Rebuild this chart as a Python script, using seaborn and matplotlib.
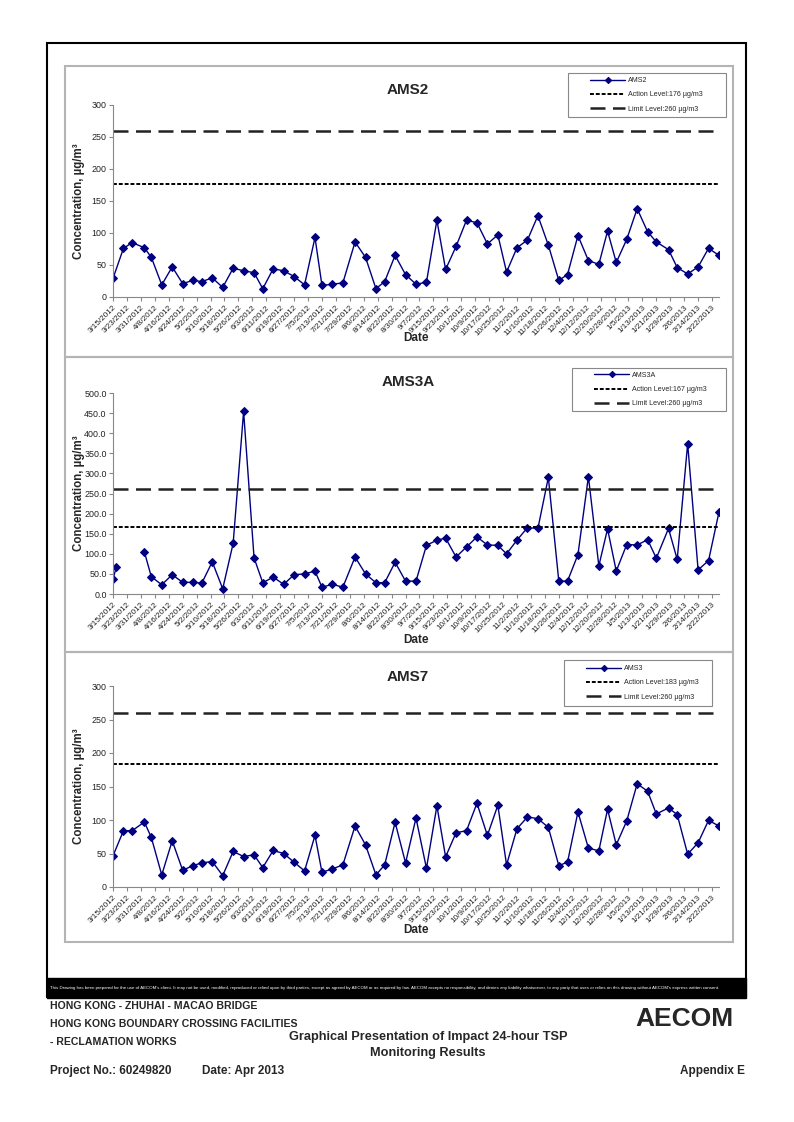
import numpy as np
import pandas as pd
import matplotlib
matplotlib.use('Agg')
import matplotlib.pyplot as plt
from matplotlib.patches import Rectangle
import seaborn as sns

sns.set_style('white')
plt.rcParams['font.family'] = ['Liberation Sans', 'DejaVu Sans']

# sampling dates (roughly every 6 days)
dates = ['2012-03-15', '2012-03-21', '2012-03-26', '2012-04-02', '2012-04-06', '2012-04-12',
         '2012-04-18', '2012-04-24', '2012-04-30', '2012-05-05', '2012-05-11', '2012-05-17',
         '2012-05-23', '2012-05-29', '2012-06-04', '2012-06-09', '2012-06-15', '2012-06-21',
         '2012-06-27', '2012-07-03', '2012-07-09', '2012-07-13', '2012-07-19', '2012-07-25',
         '2012-08-01', '2012-08-07', '2012-08-13', '2012-08-18', '2012-08-24', '2012-08-30',
         '2012-09-05', '2012-09-11', '2012-09-17', '2012-09-22', '2012-09-28', '2012-10-04',
         '2012-10-10', '2012-10-16', '2012-10-22', '2012-10-27', '2012-11-02', '2012-11-08',
         '2012-11-14', '2012-11-20', '2012-11-26', '2012-12-01', '2012-12-07', '2012-12-13',
         '2012-12-19', '2012-12-24', '2012-12-29', '2013-01-04', '2013-01-10', '2013-01-16',
         '2013-01-21', '2013-01-28', '2013-02-02', '2013-02-08', '2013-02-14', '2013-02-20',
         '2013-02-26']

ams2 = [29, 76, 85, 77, 62, 19, 47, 21, 26, 24,
        30, 15, 45, 41, 38, 13, 44, 41, 32, 19,
        93, 18, 20, 22, 86, 62, 13, 24, 65, 35,
        20, 23, 120, 43, 79, 120, 116, 83, 97, 39,
        77, 89, 127, 81, 26, 35, 96, 57, 51, 103,
        54, 90, 138, 102, 86, 74, 46, 36, 47, 76, 65]

# AMS3A has an extra sample on 3/17 and no data on 3/21, 3/26
ams3a_dates = ['2012-03-15', '2012-03-17'] + dates[1:]
ams3a = [37.5, 68, np.nan, np.nan,
         105, 43, 23, 48, 29, 29, 27, 80, 13, 126,
         454, 90, 28, 42, 24, 48, 50, 57, 17, 24,
         17, 92, 50, 28, 28, 79, 32, 32, 121, 134,
         139, 92, 117, 142, 122, 121, 100, 134, 165, 163,
         290, 32, 32, 98, 292, 70, 162, 57, 123, 122,
         135, 89, 163, 86, 374, 60, 83, 204]

ams7 = [46.5, 84, 84, 97, 74, 18, 69, 25, 32, 36,
        38, 17, 53, 45.5, 48, 29, 54.5, 50, 37, 24,
        77, 22, 27, 33, 91, 63, 18, 33, 96.5, 36,
        103, 28, 121, 45, 81, 84, 125, 77, 122, 33,
        87, 104.5, 102, 89, 32, 37, 112, 58, 54, 116,
        63, 98.5, 154, 143, 109, 118, 108, 49, 66, 99.5, 91]

titles = ['AMS2', 'AMS3A', 'AMS7']
legend_names = ['AMS2', 'AMS3A', 'AMS3']
action_levels = [176, 167, 183]
limit_level = 260
y_max = [300, 500, 300]

W, H = 794, 1122
fig = plt.figure(figsize=(W / 100, H / 100), dpi=100)


def fx(x):
    return x / W


def fy(y):
    return 1 - y / H


def box(x0, y0, x1, y1, **kw):
    fig.add_artist(Rectangle((fx(x0), fy(y1)), fx(x1) - fx(x0), fy(y0) - fy(y1),
                             transform=fig.transFigure, **kw))


# page frame, chart panels, disclaimer strip
box(47, 43, 746, 997, fill=False, lw=1.5, ec='black')
for top, bot in [(66, 357), (357, 652), (652, 942)]:
    box(65, top, 733, bot, fill=False, lw=1.5, ec='#b4b4b4')
box(47, 978, 746, 998, fc='black', ec='black')
fig.text(fx(50), fy(988), "This Drawing has been prepared for the use of AECOM's client. It may not be used, "
         "modified, reproduced or relied upon by third parties, except as agreed by AECOM or as required by law. "
         "AECOM accepts no responsibility, and denies any liability whatsoever, to any party that uses or relies "
         "on this drawing without AECOM's express written consent.",
         color='white', fontsize=3.2, va='center')

# axes positions in pixels: (left, top, right, bottom)
boxes = [(113, 105, 719, 297), (113, 393, 719, 594), (113, 686, 719, 887)]
legend_boxes = [(568, 73, 726, 117), (572, 368, 726, 411), (564, 660, 712, 706)]
title_pad = [8, 5, 3.5]
date_y = [338, 640, 930]

series = [(dates, ams2), (ams3a_dates, ams3a), (dates, ams7)]
ticks = pd.date_range('2012-03-15', '2013-02-22', freq='8D')
tick_labels = [f'{d.month}/{d.day}/{d.year}' for d in ticks]

for i, (d, v) in enumerate(series):
    l, t, r, b = boxes[i]
    ax = fig.add_axes([fx(l), fy(b), fx(r) - fx(l), fy(t) - fy(b)])
    df = pd.DataFrame({'Date': pd.to_datetime(d), 'Conc': v})
    df['seg'] = df['Conc'].isna().cumsum()
    df = df.dropna()
    sns.lineplot(data=df, x='Date', y='Conc', units='seg', estimator=None, ax=ax,
                 color='#000080', lw=1.0, marker='D', markersize=4,
                 markeredgecolor='#000080', legend=False)
    h_data = ax.lines[0]
    h_act = ax.axhline(action_levels[i], color='black', lw=1.4, ls=(0, (2, 1)))
    h_lim = ax.axhline(limit_level, color='#222222', lw=1.8, ls=(0, (6, 3)))

    ax.set_xlim(pd.Timestamp('2012-03-15'), pd.Timestamp('2013-02-26'))
    ax.set_ylim(0, y_max[i])
    yt = np.arange(0, y_max[i] + 1, 50)
    ax.set_yticks(yt)
    if i == 1:
        ax.set_yticklabels([f'{y:.1f}' for y in yt])
    ax.set_xticks(ticks)
    ax.set_xticklabels(tick_labels, rotation=45, ha='right', rotation_mode='anchor', fontsize=5.9)
    ax.tick_params(axis='y', labelsize=6.4, length=3, direction='out', left=True, color='#888888',
                   pad=1.5, labelcolor='#222222')
    ax.tick_params(axis='x', length=3, direction='out', bottom=True, color='#888888', pad=2,
                   labelcolor='#222222')
    for s in ['top', 'right']:
        ax.spines[s].set_visible(False)
    for s in ['left', 'bottom']:
        ax.spines[s].set_color('#888888')
        ax.spines[s].set_linewidth(0.8)
    ax.set_xlabel('Date', fontsize=8.5, fontweight='bold')
    ax.xaxis.set_label_coords(0.5, (b - date_y[i]) / (b - t), transform=ax.transAxes)
    ax.xaxis.label.set_va('center')
    ax.set_ylabel('Concentration, \u00b5g/m\u00b3', fontsize=8.3, fontweight='bold')
    ax.yaxis.set_label_coords((79 - l) / (r - l), 0.5)
    ax.yaxis.label.set_va('center')
    ax.set_title(titles[i], fontsize=11, fontweight='bold', pad=title_pad[i], x=(408 - l) / (r - l))

    lx0, ly0, lx1, ly1 = legend_boxes[i]
    box(lx0, ly0, lx1, ly1, fill=False, lw=0.8, ec='#888888')
    ax.legend([h_data, h_act, h_lim],
              [legend_names[i], f'Action Level:{action_levels[i]} \u00b5g/m3',
               f'Limit Level:{limit_level} \u00b5g/m3'],
              loc='center left', bbox_to_anchor=(fx(lx0 + 22), fy((ly0 + ly1) / 2)),
              bbox_transform=fig.transFigure, fontsize=5.1, frameon=False,
              handlelength=5.0, labelspacing=1.05, borderpad=0, borderaxespad=0,
              handletextpad=0.4, markerscale=0.8)

# footer
narrow = ['Liberation Sans Narrow', 'Liberation Sans']
foot = dict(fontsize=7.6, fontweight='bold', family=narrow, va='center')
fig.text(fx(50), fy(1006), 'HONG KONG - ZHUHAI - MACAO BRIDGE', **foot)
fig.text(fx(50), fy(1024), 'HONG KONG BOUNDARY CROSSING FACILITIES', **foot)
fig.text(fx(50), fy(1042), '- RECLAMATION WORKS', **foot)
fig.text(fx(428), fy(1037), 'Graphical Presentation of Impact 24-hour TSP', ha='center', va='center',
         fontsize=9.2, fontweight='bold', family=narrow)
fig.text(fx(428), fy(1053), 'Monitoring Results', ha='center', va='center',
         fontsize=9.2, fontweight='bold', family=narrow)
fig.text(fx(50), fy(1071), 'Project No.: 60249820', va='center', fontsize=8.5, fontweight='bold',
         family=narrow)
fig.text(fx(202), fy(1071), 'Date: Apr 2013', va='center', fontsize=8.5, fontweight='bold',
         family=narrow)
fig.text(fx(745), fy(1071), 'Appendix E', ha='right', va='center', fontsize=8.5, fontweight='bold',
         family=narrow)
fig.text(fx(684), fy(1019), 'AECOM', ha='center', va='center', fontsize=19, fontweight='heavy')

fig.savefig('out.png', dpi=100)
